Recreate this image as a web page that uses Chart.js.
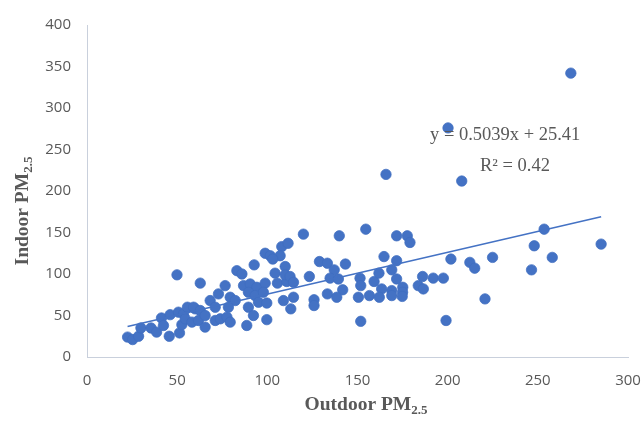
<!DOCTYPE html>
<html>
<head>
<meta charset="utf-8">
<script src="https://cdn.jsdelivr.net/npm/chart.js@4"></script>
<style>
  html, body { margin: 0; padding: 0; background: #fff; }
  #wrap { width: 643px; height: 421px; position: relative; }
</style>
</head>
<body>
<div id="wrap"><canvas id="chart" width="643" height="421"></canvas></div>
<script>
// outdoor / indoor PM2.5 readings
const outdoor = [
  22.5, 25.3, 28.6, 29.9, 35.5, 38.6, 41.3, 42.4, 45.6, 46.1,
  49.9, 51.3, 52.6, 50.7, 53.5, 55.7, 60.0, 54.5, 58.2, 61.8,
  62.8, 59.1, 62.8, 65.5, 65.5, 68.3, 71.1, 71.1, 73.9, 77.6,
  72.9, 76.6, 79.4, 82.2, 78.4, 79.4, 83.1, 85.9, 86.8, 90.5,
  94.2, 89.5, 93.2, 92.7, 98.8, 97.8, 95.1, 99.7, 89.5, 92.3,
  88.6, 99.7, 98.8, 101.6, 108.0, 111.5, 107.1, 104.3, 105.6, 109.9,
  110.8, 108.9, 120.0, 139.9, 154.6, 103.0, 128.9, 133.3, 143.3, 109.9,
  112.6, 114.5, 123.3, 137.1, 134.8, 139.4, 151.4, 151.8, 141.8, 133.3,
  138.5, 150.5, 156.6, 114.5, 113.0, 125.9, 125.9, 151.8, 171.7, 177.6,
  179.1, 164.7, 171.7, 201.8, 212.3, 159.2, 161.9, 169.0, 171.7, 163.4,
  175.1, 175.0, 169.0, 183.7, 186.1, 186.5, 192.0, 197.6, 162.1, 169.0,
  174.8, 199.1, 207.8, 253.5, 285.1, 248.0, 215.0, 224.9, 258.0, 246.5,
  220.7, 268.3, 200.2, 165.8
];
const indoor = [
  24, 21, 25, 35, 35, 30, 47, 38, 25, 51,
  99, 29, 39, 54, 52, 60, 58, 46, 42, 44,
  89, 60, 56, 50, 36, 68, 60, 44, 46, 48,
  76, 86, 72, 68, 60, 42, 104, 100, 86, 88,
  84, 78, 74, 111, 89, 78, 66, 65, 60, 50,
  38, 45, 125, 122, 133, 137, 122, 101, 89, 109,
  91, 68, 148, 146, 154, 118, 115, 113, 112, 99,
  97, 90, 97, 105, 95, 94, 95, 86, 81, 76,
  72, 72, 74, 72, 58, 69, 62, 43, 146, 146,
  138, 121, 116, 118, 114, 91, 101, 105, 94, 82,
  84, 78, 80, 86, 97, 82, 95, 95, 72, 74,
  73, 44, 212, 154, 136, 134, 107, 120, 120, 105,
  70, 342, 276, 220
];

// trendline as printed on the chart
const slope = 0.5039;
const intercept = 25.41;
const trendX = [22.5, 285.1];

const xTicks = [0, 50, 100, 150, 200, 250, 300];
const yTicks = [0, 50, 100, 150, 200, 250, 300, 350, 400];

const blue = '#4472C4';
const grey = '#595959';

const points = outdoor.map((x, i) => ({ x: x, y: indoor[i] }));
const trend = trendX.map(x => ({ x: x, y: slope * x + intercept }));

// axis titles with subscripts + equation labels
const labelsPlugin = {
  id: 'labels',
  afterDraw(chart) {
    const ctx = chart.ctx;
    ctx.save();
    ctx.fillStyle = grey;
    ctx.textBaseline = 'alphabetic';
    ctx.textAlign = 'left';

    const big = 'bold 19.5px "Liberation Serif", serif';
    const small = 'bold 13px "Liberation Serif", serif';

    // x title
    ctx.font = big;
    const wMain = ctx.measureText('Outdoor PM').width;
    ctx.font = small;
    const wSub = ctx.measureText('2.5').width;
    let sx = 366 - (wMain + wSub) / 2;
    ctx.font = big;
    ctx.fillText('Outdoor PM', sx, 410);
    ctx.font = small;
    ctx.fillText('2.5', sx + wMain, 414);

    // y title
    ctx.save();
    ctx.translate(28, 211);
    ctx.rotate(-Math.PI / 2);
    ctx.font = big;
    const wMainY = ctx.measureText('Indoor PM').width;
    ctx.font = small;
    const wSubY = ctx.measureText('2.5').width;
    sx = -(wMainY + wSubY) / 2;
    ctx.font = big;
    ctx.fillText('Indoor PM', sx, 0);
    ctx.font = small;
    ctx.fillText('2.5', sx + wMainY, 4);
    ctx.restore();

    // equation
    ctx.font = '18.5px "Liberation Serif", serif';
    ctx.fillText('y = ' + slope.toFixed(4) + 'x + ' + intercept.toFixed(2), 430, 140);
    ctx.fillText('R\u00B2 = 0.42', 480, 171);
    ctx.restore();
  }
};

new Chart(document.getElementById('chart'), {
  type: 'scatter',
  data: {
    datasets: [
      {
        label: 'Indoor vs outdoor',
        data: points,
        backgroundColor: blue,
        borderColor: '#3F6DC0',
        borderWidth: 0.75,
        pointRadius: 5.2,
        pointHoverRadius: 5.2,
        order: 2
      },
      {
        label: 'Linear trend',
        type: 'line',
        data: trend,
        borderColor: blue,
        borderWidth: 1.5,
        pointRadius: 0,
        fill: false,
        order: 1
      }
    ]
  },
  options: {
    responsive: false,
    animation: false,
    layout: { padding: { top: 18, right: 15, left: 0, bottom: 0 } },
    plugins: {
      legend: { display: false },
      tooltip: { enabled: false }
    },
    scales: {
      x: {
        type: 'linear',
        min: 0,
        max: 300,
        afterBuildTicks: (axis) => { axis.ticks = xTicks.map(v => ({ value: v })); },
        afterFit: (axis) => {
          axis.height = 64;
          axis.paddingLeft = 0;
          axis.paddingRight = 0;
        },
        grid: { display: false, drawTicks: false },
        border: { display: true, color: '#C9D0DC', width: 1 },
        ticks: {
          color: grey,
          padding: 15,
          maxRotation: 0,
          font: { family: '"Open Sans", sans-serif', size: 15 }
        }
      },
      y: {
        type: 'linear',
        min: 0,
        max: 400,
        afterBuildTicks: (axis) => { axis.ticks = yTicks.map(v => ({ value: v })); },
        afterFit: (axis) => { axis.width = 87; },
        grid: { display: false, drawTicks: false },
        border: { display: true, color: '#C9D0DC', width: 1 },
        ticks: {
          color: grey,
          padding: 16,
          font: { family: '"Open Sans", sans-serif', size: 15 }
        }
      }
    }
  },
  plugins: [labelsPlugin]
});
</script>
</body>
</html>
